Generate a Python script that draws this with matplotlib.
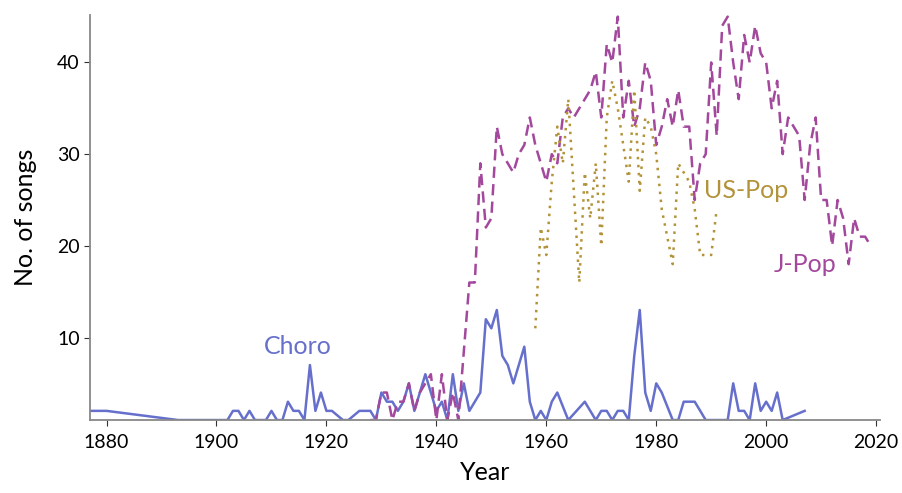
import matplotlib
matplotlib.use("Agg")
import matplotlib.pyplot as plt

choro_years = [1877, 1880, 1893, 1894, 1895, 1896, 1897, 1898, 1899, 1900, 1901, 1902,
               1903, 1904, 1905, 1906, 1907, 1908, 1909, 1910, 1911, 1912, 1913, 1914,
               1915, 1916, 1917, 1918, 1919, 1920, 1921, 1923, 1924, 1926, 1927, 1928,
               1929, 1930, 1931, 1932, 1933, 1934, 1935, 1936, 1937, 1938, 1939, 1940,
               1941, 1942, 1943, 1944, 1945, 1946, 1947, 1948, 1949, 1950, 1951, 1952,
               1953, 1954, 1955, 1956, 1957, 1958, 1959, 1960, 1961, 1962, 1964, 1967,
               1969, 1970, 1971, 1972, 1973, 1974, 1975, 1976, 1977, 1978, 1979, 1980,
               1981, 1983, 1984, 1985, 1986, 1987, 1989, 1990, 1991, 1992, 1993, 1994,
               1995, 1996, 1997, 1998, 1999, 2000, 2001, 2002, 2003, 2007]
choro_vals = [2, 2, 1, 1, 1, 1, 1, 1, 1, 1, 1, 1,
              2, 2, 1, 2, 1, 1, 1, 2, 1, 1, 3, 2,
              2, 1, 7, 2, 4, 2, 2, 1, 1, 2, 2, 2,
              1, 4, 3, 3, 2, 3, 5, 2, 4, 6, 4, 2,
              3, 1, 6, 2, 5, 2, 3, 4, 12, 11, 13, 8,
              7, 5, 7, 9, 3, 1, 2, 1, 3, 4, 1, 3,
              1, 2, 2, 1, 2, 2, 1, 8, 13, 4, 2, 5,
              4, 1, 1, 3, 3, 3, 1, 1, 1, 1, 1, 5,
              2, 2, 1, 5, 2, 3, 2, 4, 1, 2]

jpop_years = [1928, 1929, 1930, 1931, 1932, 1933, 1934, 1935, 1936, 1937, 1938, 1939,
              1940, 1941, 1942, 1943, 1944, 1946, 1947, 1948, 1949, 1950, 1951, 1952,
              1953, 1954, 1955, 1956, 1957, 1958, 1959, 1960, 1961, 1962, 1963, 1964,
              1965, 1966, 1967, 1968, 1969, 1970, 1971, 1972, 1973, 1974, 1975, 1976,
              1977, 1978, 1979, 1980, 1981, 1982, 1983, 1984, 1985, 1986, 1987, 1988,
              1989, 1990, 1991, 1992, 1993, 1994, 1995, 1996, 1997, 1998, 1999, 2000,
              2001, 2002, 2003, 2004, 2005, 2006, 2007, 2008, 2009, 2010, 2011, 2012,
              2013, 2014, 2015, 2016, 2017, 2018, 2019]
jpop_vals = [1, 1, 4, 4, 1, 3, 3, 5, 2, 4, 5, 6,
             1, 6, 1, 4, 1, 16, 16, 29, 22, 23, 33, 30,
             29, 28, 30, 31, 34, 31, 29, 27, 30, 29, 34, 35,
             34, 35, 36, 37, 39, 34, 42, 40, 45, 34, 38, 33,
             35, 40, 38, 31, 33, 36, 33, 37, 33, 33, 25, 29,
             30, 40, 32, 44, 45, 40, 36, 43, 40, 44, 41, 40,
             35, 38, 30, 34, 33, 32, 25, 31, 34, 25, 25, 20,
             25, 23, 18, 23, 21, 21, 20]

uspop_years = [1958, 1959, 1960, 1961, 1962, 1963, 1964, 1966, 1967, 1968, 1969, 1970,
               1971, 1972, 1973, 1974, 1975, 1976, 1977, 1978, 1979, 1980, 1981, 1982,
               1983, 1984, 1985, 1986, 1987, 1988, 1989, 1990, 1991]
uspop_vals = [11, 22, 19, 27, 33, 29, 36, 16, 28, 23, 29, 20,
              34, 38, 35, 31, 27, 37, 26, 34, 33, 30, 24, 21,
              18, 29, 28, 27, 24, 19, 19, 19, 24]

series_names = ["Choro", "J-Pop", "US-Pop"]
colors = {"Choro": "#6670cc", "J-Pop": "#a3489c", "US-Pop": "#b39339"}

x_ticks = [1880, 1900, 1920, 1940, 1960, 1980, 2000, 2020]
y_ticks = [10, 20, 30, 40]

plt.rcParams['font.family'] = ['Lato', 'DejaVu Sans']

fig = plt.figure(figsize=(9.03, 4.93), dpi=100)
ax = fig.add_axes([0.0997, 0.148, 0.8748, 0.822])

ax.plot(choro_years, choro_vals, color=colors["Choro"], lw=1.8, ls='-')
ax.plot(jpop_years, jpop_vals, color=colors["J-Pop"], lw=1.8, ls=(0, (4.5, 2.5)))
ax.plot(uspop_years, uspop_vals, color=colors["US-Pop"], lw=1.8, ls=(0, (1, 2.2)))

ax.text(1914.8, 9.0, "Choro", color=colors["Choro"], fontsize=18, ha='center', va='center')
ax.text(1996.3, 26.0, "US-Pop", color=colors["US-Pop"], fontsize=18, ha='center', va='center')
ax.text(2007.0, 18.0, "J-Pop", color=colors["J-Pop"], fontsize=18, ha='center', va='center')

ax.set_xlim(1877, 2020.7)
ax.set_ylim(1, 45.2)
ax.set_xticks(x_ticks)
ax.set_yticks(y_ticks)
ax.tick_params(labelsize=14, color='#333333', length=4)
ax.tick_params(axis='x', pad=6)
ax.set_xlabel("Year", fontsize=18, labelpad=7)
ax.set_ylabel("No. of songs", fontsize=18, labelpad=14)
for s in ['top', 'right']:
    ax.spines[s].set_visible(False)
for s in ['left', 'bottom']:
    ax.spines[s].set_color('#888888')
    ax.spines[s].set_linewidth(1.3)

fig.savefig("out.png", dpi=100)
